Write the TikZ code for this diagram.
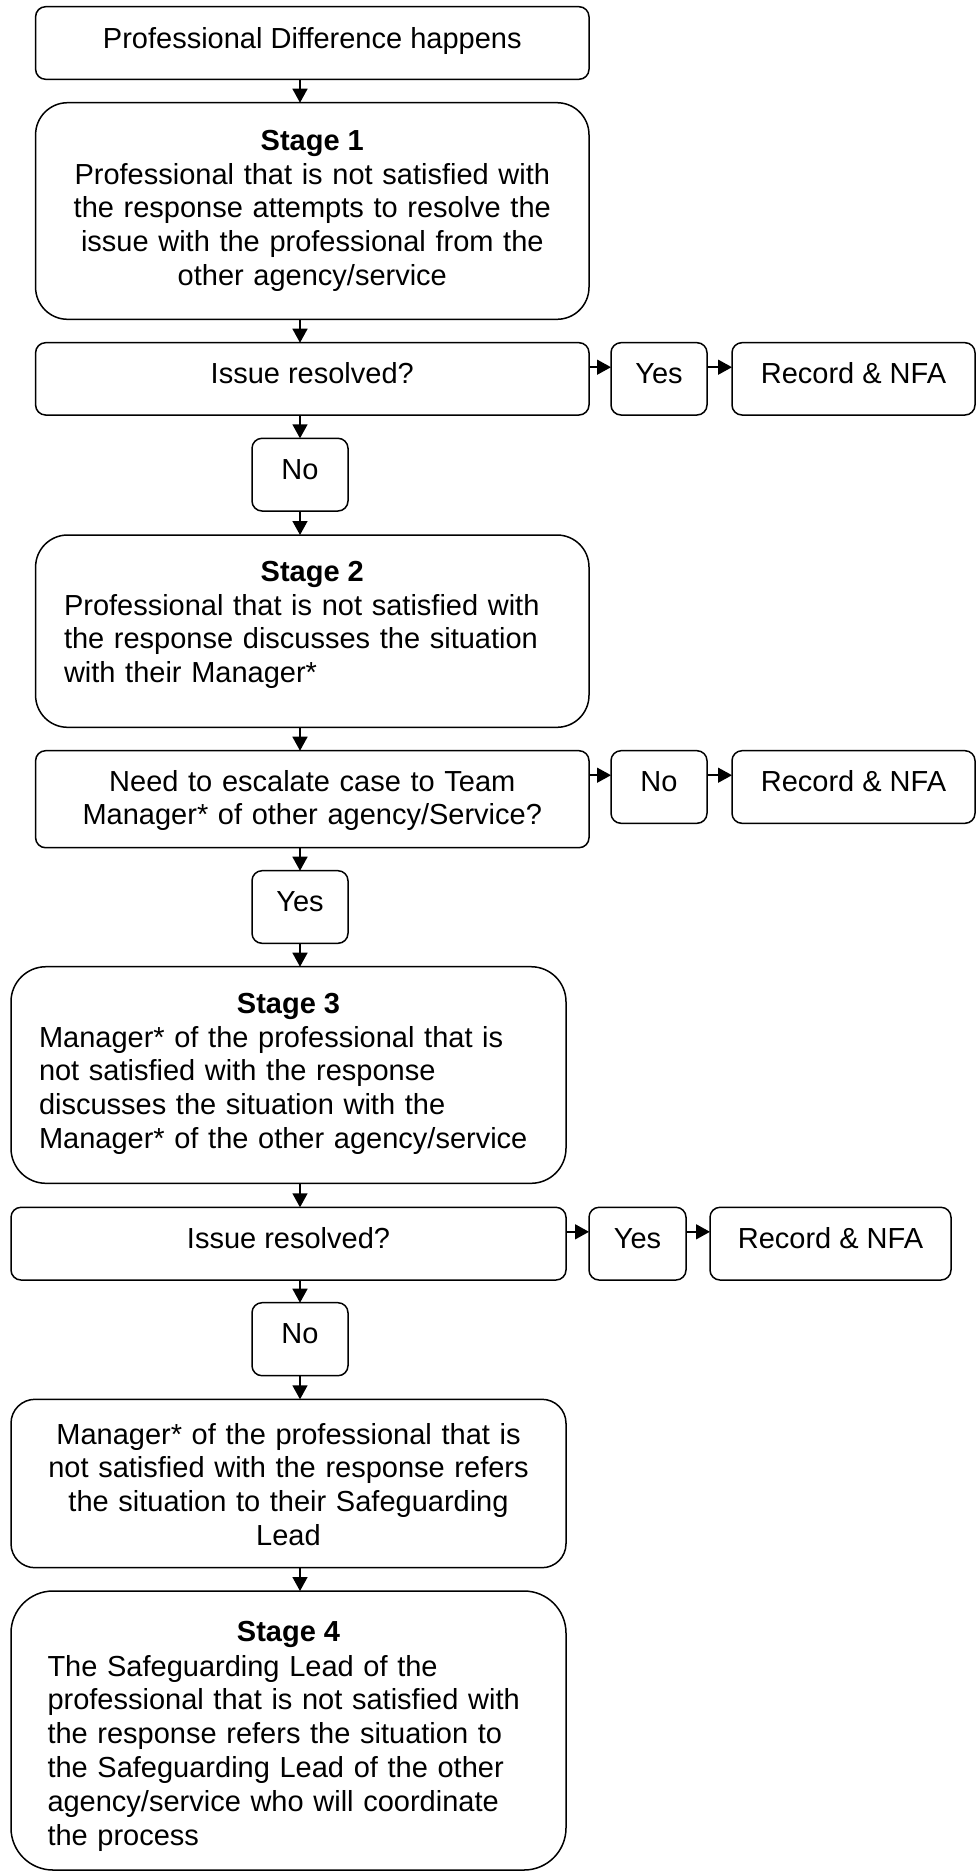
\documentclass[tikz,border=0pt]{standalone}
\usepackage{fontspec}
\setmainfont{Liberation Sans}
\usetikzlibrary{arrows.meta}
\begin{document}
\begin{tikzpicture}[x=1pt,y=-1pt,
  box/.style={draw=black, line width=1.5pt, rectangle, rounded corners=#1, inner sep=0pt, outer sep=0pt, anchor=north west},
  box/.default=10pt,
  txt/.style={inner sep=0pt, outer sep=0pt, font=\fontsize{29}{33.8}\selectfont},
  ctxt/.style={txt, text width=540pt, align=center, anchor=base},
  ltxt/.style={txt, text width=530pt, align=left, anchor=base west},
  head/.style={txt, font=\fontsize{29}{33.8}\selectfont\bfseries, anchor=base},
  arr/.style={line width=1.5pt, -{Triangle[length=14pt,width=15pt]}},
]
\useasboundingbox[fill=white] (0,0) rectangle (976,1872);
\coordinate (vx) at (300,0);

% boxes
\node[box, minimum width=553.4pt, minimum height=72.6pt] (b1) at (35.6,6.7) {};
\node[box=32pt, minimum width=553.4pt, minimum height=216.6pt] (s1) at (35.6,102.7) {};
\node[box, minimum width=553.4pt, minimum height=72.3pt] (ir1) at (35.6,342.7) {};
\node[box, minimum width=96pt, minimum height=72.3pt] (yes1) at (611,342.7) {};
\node[box, minimum width=243pt, minimum height=72.3pt] (rec1) at (732,342.7) {};
\node[box, minimum width=96pt, minimum height=72.7pt] (no1) at (252,438.3) {};
\node[box=32pt, minimum width=553.4pt, minimum height=192.3pt] (s2) at (35.6,535) {};
\node[box, minimum width=553.4pt, minimum height=97pt] (ne) at (35.6,750.7) {};
\node[box, minimum width=96pt, minimum height=72.6pt] (no2) at (611,750.7) {};
\node[box, minimum width=243pt, minimum height=72.6pt] (rec2) at (732,750.7) {};
\node[box, minimum width=96pt, minimum height=72.6pt] (yes2) at (252,870.7) {};
\node[box=35pt, minimum width=555pt, minimum height=216.6pt] (s3) at (11,966.7) {};
\node[box, minimum width=555pt, minimum height=72.7pt] (ir2) at (11,1207.3) {};
\node[box, minimum width=97pt, minimum height=72.7pt] (yes3) at (589,1207.3) {};
\node[box, minimum width=241pt, minimum height=72.7pt] (rec3) at (710,1207.3) {};
\node[box, minimum width=96pt, minimum height=73pt] (no3) at (252,1302.7) {};
\node[box=24pt, minimum width=555pt, minimum height=168.4pt] (m) at (11,1399.3) {};
\node[box=42pt, minimum width=555pt, minimum height=279pt] (s4) at (11,1591) {};

% texts
\node[txt, anchor=base] (t1) at (312.3,48) {Professional Difference happens};
\node[head] (h1) at (312.3,150) {Stage 1};
\node[ctxt] (t2) at (312.3,184) {Professional that is not satisfied with\\the response attempts to resolve the\\issue with the professional from the\\other agency/service};
\node[txt, anchor=base] (t3) at (312.3,383) {Issue resolved?};
\node[txt, anchor=base] (t4) at (659,383) {Yes};
\node[txt, anchor=base] (t5) at (853.5,383) {Record \& NFA};
\node[txt, anchor=base] (t6) at (300,479) {No};
\node[head] (h2) at (312.3,581) {Stage 2};
\node[ltxt] (t7) at (64,615) {Professional that is not satisfied with\\the response discusses the situation\\with their Manager*};
\node[ctxt] (t8) at (312.3,791) {Need to escalate case to Team\\Manager* of other agency/Service?};
\node[txt, anchor=base] (t9) at (659,791) {No};
\node[txt, anchor=base] (t10) at (853.5,791) {Record \& NFA};
\node[txt, anchor=base] (t11) at (300,911) {Yes};
\node[head] (h3) at (288.5,1013) {Stage 3};
\node[ltxt] (t12) at (39,1047) {Manager* of the professional that is\\not satisfied with the response\\discusses the situation with the\\Manager* of the other agency/service};
\node[txt, anchor=base] (t13) at (288.5,1248) {Issue resolved?};
\node[txt, anchor=base] (t14) at (637.5,1248) {Yes};
\node[txt, anchor=base] (t15) at (830.5,1248) {Record \& NFA};
\node[txt, anchor=base] (t16) at (300,1343) {No};
\node[ctxt] (t17) at (288.5,1444) {Manager* of the professional that is\\not satisfied with the response refers\\the situation to their Safeguarding\\Lead};
\node[head] (h4) at (288.5,1641) {Stage 4};
\node[ltxt] (t18) at (47.5,1676) {The Safeguarding Lead of the\\professional that is not satisfied with\\the response refers the situation to\\the Safeguarding Lead of the other\\agency/service who will coordinate\\the process};

% vertical connectors
\draw[arr] (b1.south -| vx) -- (s1.north -| vx);
\draw[arr] (s1.south -| vx) -- (ir1.north -| vx);
\draw[arr] (ir1.south -| vx) -- (no1.north);
\draw[arr] (no1.south) -- (s2.north -| vx);
\draw[arr] (s2.south -| vx) -- (ne.north -| vx);
\draw[arr] (ne.south -| vx) -- (yes2.north);
\draw[arr] (yes2.south) -- (s3.north -| vx);
\draw[arr] (s3.south -| vx) -- (ir2.north -| vx);
\draw[arr] (ir2.south -| vx) -- (no3.north);
\draw[arr] (no3.south) -- (m.north -| vx);
\draw[arr] (m.south -| vx) -- (s4.north -| vx);

% horizontal connectors
\draw[arr] ([yshift=-24.5pt]ir1.north east) -- ([yshift=-24.5pt]yes1.north west);
\draw[arr] ([yshift=-24.5pt]yes1.north east) -- ([yshift=-24.5pt]rec1.north west);
\draw[arr] ([yshift=-24.5pt]ne.north east) -- ([yshift=-24.5pt]no2.north west);
\draw[arr] ([yshift=-24.5pt]no2.north east) -- ([yshift=-24.5pt]rec2.north west);
\draw[arr] ([yshift=-24.5pt]ir2.north east) -- ([yshift=-24.5pt]yes3.north west);
\draw[arr] ([yshift=-24.5pt]yes3.north east) -- ([yshift=-24.5pt]rec3.north west);
\end{tikzpicture}
\end{document}
